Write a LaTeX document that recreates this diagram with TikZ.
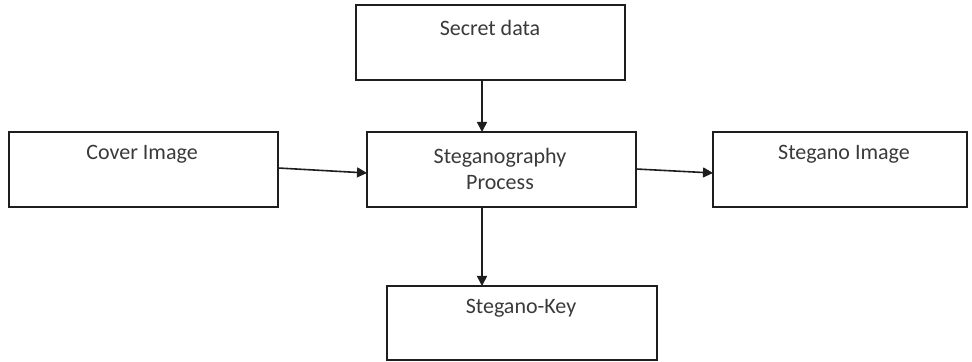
\documentclass[tikz,border=0pt]{standalone}
\usepackage{fontspec}
\setmainfont{Carlito}
\usetikzlibrary{arrows.meta}
\definecolor{linec}{HTML}{1E1E1E}
\definecolor{textc}{HTML}{3A3A3A}
\begin{document}
\begin{tikzpicture}[x=0.5pt,y=-0.5pt,
  boxc/.style={draw=linec,line width=0.9pt,rectangle,inner sep=0pt,outer sep=0pt,minimum height=37.5pt},
  lbl/.style={text=textc,font=\fontsize{11}{13}\selectfont,inner sep=0pt,align=center},
  arr/.style={draw=linec,line width=0.8pt,-{Triangle[length=5pt,width=5pt]}}]
\useasboundingbox (0,0) rectangle (972,362);
\node[boxc,minimum width=134.5pt] (secret) at (490.5,42.5) {};
\node[boxc,minimum width=134.5pt] (cover) at (143.5,169.5) {};
\node[boxc,minimum width=134.5pt] (proc) at (501.5,169.5) {};
\node[boxc,minimum width=127pt] (stimg) at (840,169.5) {};
\node[boxc,minimum width=135pt,minimum height=37pt] (key) at (522,323) {};
\node[lbl] (secrett) at (490,28) {Secret data};
\node[lbl] (covert) at (142,154) {Cover Image};
\node[lbl] (proct) at (500,169) {Steganography\\Process};
\node[lbl] (stimgt) at (844,154) {Stegano Image};
\node[lbl] (keyt) at (521,308) {Stegano-Key};
\draw[arr] (secret.south -| 482,0) -- (proc.north -| 482,0);
\draw[arr] (proc.south -| 482,0) -- (key.north -| 482,0);
\draw[arr] ([yshift=0.75pt]cover.east) -- ([yshift=-1.75pt]proc.west);
\draw[arr] ([yshift=0.25pt]proc.east) -- ([yshift=-1.75pt]stimg.west);
\end{tikzpicture}
\end{document}
